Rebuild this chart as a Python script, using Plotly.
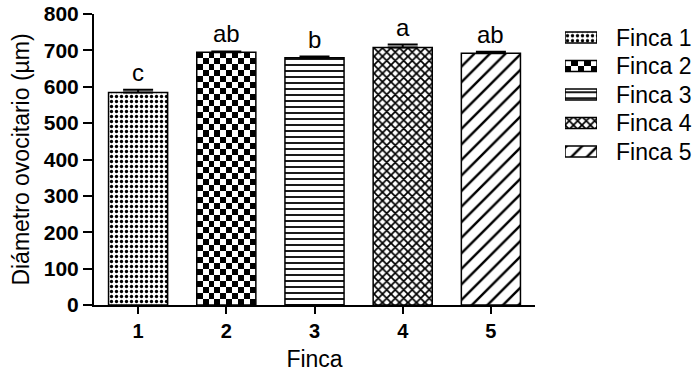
import numpy as np
import plotly.graph_objects as go

# Mean oocyte diameter per farm with standard error and significance groups
fincas = [1, 2, 3, 4, 5]
nombres = ["Finca 1", "Finca 2", "Finca 3", "Finca 4", "Finca 5"]
diametro = [584, 695, 680, 708, 692]
error = [8, 2, 3, 8, 4]
grupos = ["c", "ab", "b", "a", "ab"]

# Fill styles per farm (Finca 2 gets a checkerboard drawn as a heatmap)
patron = [".", "", "-", "x", "/"]
patron_size = [5, 8, 6, 6, 11]
patron_solidez = [0.35, 0.3, 0.3, 0.5, 0.22]

W, H = 695, 373
FONT = "Liberation Sans, Arial, sans-serif"
ANCHO = 0.67

fig = go.Figure()


def tablero(xc, y0, y1, ncol, nfil, xa, ya, ancho):
    xs = xc - ancho / 2 + (np.arange(ncol) + 0.5) * ancho / ncol
    ys = y0 + (np.arange(nfil) + 0.5) * (y1 - y0) / nfil
    z = [[(i + j) % 2 for j in range(ncol)] for i in range(nfil)]
    return go.Heatmap(x=xs, y=ys, z=z, xaxis=xa, yaxis=ya,
                      colorscale=[[0, "white"], [1, "black"]],
                      showscale=False, hoverinfo="skip")


def estilo(i):
    if patron[i]:
        return dict(color="white", line=dict(color="black", width=1.5),
                    pattern=dict(shape=patron[i], size=patron_size[i],
                                 solidity=patron_solidez[i],
                                 fgcolor="black", fgopacity=1))
    return dict(color="rgba(0,0,0,0)", line=dict(color="black", width=1.5))


# checkerboard fill of the Finca 2 bar
fig.add_trace(tablero(fincas[1], 0, diametro[1], 10, 42, "x", "y", ANCHO))
fila = list(range(len(nombres)))
fig.add_trace(tablero(0.5, fila[1] - 0.195, fila[1] + 0.195, 5, 2, "x2", "y2", 1.0))

for i in range(len(fincas)):
    fig.add_trace(go.Bar(
        x=[fincas[i]], y=[diametro[i]], width=ANCHO, marker=estilo(i),
        error_y=dict(type="data", array=[error[i]], arrayminus=[0],
                     symmetric=False, color="black", thickness=2, width=15),
        showlegend=False,
    ))
    # key entry: a short horizontal bar on the inset axis
    fig.add_trace(go.Bar(
        x=[1], y=[fila[i]], base=0, orientation="h", width=0.39,
        xaxis="x2", yaxis="y2", marker=estilo(i),
        showlegend=False, hoverinfo="skip",
    ))

for f, v, e, g in zip(fincas, diametro, error, grupos):
    fig.add_annotation(x=f, y=v + e, text=g, showarrow=False,
                       yanchor="bottom", yshift=2,
                       font=dict(family=FONT, size=24, color="black"))

fig.update_layout(
    template="none",
    width=W, height=H,
    margin=dict(l=0, r=0, t=0, b=0),
    paper_bgcolor="white", plot_bgcolor="white",
    font=dict(family=FONT, color="black"),
    barmode="overlay",
    xaxis=dict(domain=[94 / W, 535 / W], range=[0.5, 5.5],
               tickvals=fincas, ticktext=[str(f) for f in fincas],
               tickfont=dict(size=20, weight="bold"),
               ticks="outside", ticklen=7, tickwidth=2, tickcolor="black",
               showline=True, linewidth=2, linecolor="black",
               showgrid=False, zeroline=False, automargin=False,
               title=dict(text="Finca", font=dict(size=23), standoff=10)),
    yaxis=dict(domain=[(H - 305) / H, (H - 14) / H], range=[0, 800],
               dtick=100, tickfont=dict(size=21, weight="bold"),
               ticks="outside", ticklen=9, tickwidth=2, tickcolor="black",
               showline=True, linewidth=2, linecolor="black",
               showgrid=False, zeroline=False, automargin=False,
               title=dict(text="Diámetro ovocitario (µm)",
                          font=dict(size=23), standoff=8)),
    xaxis2=dict(domain=[565 / W, 597 / W], range=[0, 1], anchor="y2",
                visible=False, fixedrange=True),
    yaxis2=dict(domain=[1 - 165.75 / H, 1 - 23.25 / H], range=[4.5, -0.5],
                anchor="x2", side="right", tickvals=fila, ticktext=nombres,
                tickfont=dict(size=23), ticks="", showline=False,
                showgrid=False, zeroline=False, automargin=False,
                ticklabelstandoff=18, fixedrange=True),
)

fig.write_html("out.html")
